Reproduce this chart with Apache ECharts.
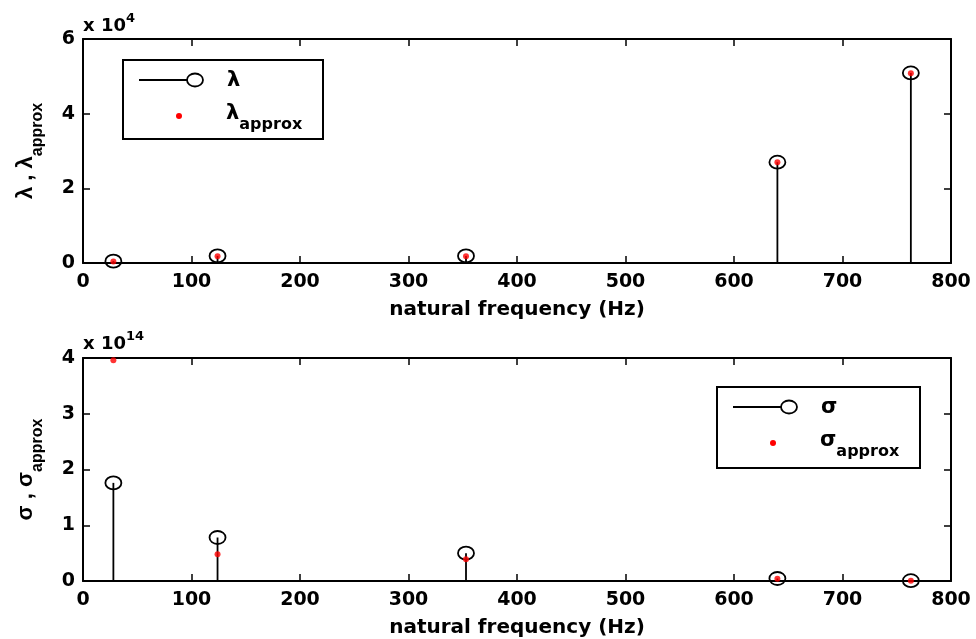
<!DOCTYPE html>
<html>
<head>
<meta charset="utf-8">
<script src="https://cdn.jsdelivr.net/npm/echarts@6/dist/echarts.min.js"></script>
<style>
html, body { margin: 0; padding: 0; background: #fff; }
#main { width: 976px; height: 639px; }
</style>
</head>
<body>
<div id="main"></div>
<script>
// natural frequencies (Hz)
var freqs = [28, 124, 353, 640, 763];
// lambda, in units of 10^4
var lambda = [0.05, 0.19, 0.19, 2.70, 5.09];
var lambdaApprox = [0.04, 0.18, 0.18, 2.70, 5.08];
// sigma, in units of 10^14
var sigma = [1.76, 0.78, 0.50, 0.045, 0.005];
var sigmaApprox = [3.96, 0.48, 0.39, 0.04, 0.005];

// the original figure is stretched sideways, so horizontal text uses the wider DejaVu
var WIDE = 'DejaVu Sans, sans-serif';
var NARROW = 'Liberation Sans, Arial, sans-serif';

function pairs(xs, ys) {
  return xs.map(function (x, i) { return [x, ys[i]]; });
}

// stem: line from baseline up to value, open circle on top
function stemItem(params, api) {
  var base = api.coord([api.value(0), 0]);
  var top = api.coord([api.value(0), api.value(1)]);
  return {
    type: 'group',
    children: [
      { type: 'line', shape: { x1: base[0], y1: base[1], x2: top[0], y2: top[1] },
        style: { stroke: '#000', lineWidth: 1.8 } },
      { type: 'ellipse', shape: { cx: top[0], cy: top[1], rx: 8, ry: 6.5 },
        style: { fill: 'none', stroke: '#000', lineWidth: 1.8 } }
    ]
  };
}

function xAxisPair(grid) {
  var common = {
    type: 'value', gridIndex: grid, min: 0, max: 800, interval: 100,
    axisLine: { onZero: false, lineStyle: { color: '#000', width: 2 } },
    axisTick: { inside: true, length: 7, lineStyle: { color: '#000', width: 1.5 } },
    splitLine: { show: false }
  };
  var bottom = Object.assign({}, common, {
    position: 'bottom',
    name: 'natural frequency (Hz)', nameLocation: 'middle', nameGap: 37,
    nameTextStyle: { fontFamily: WIDE, fontWeight: 'bold', fontSize: 20, color: '#000' },
    axisLabel: { fontFamily: WIDE, fontWeight: 'bold', fontSize: 19, color: '#000', margin: 10 }
  });
  var topAx = Object.assign({}, common, { position: 'top', axisLabel: { show: false } });
  return [bottom, topAx];
}

function yAxisPair(grid, max, interval, sym) {
  var common = {
    type: 'value', gridIndex: grid, min: 0, max: max, interval: interval,
    axisLine: { onZero: false, lineStyle: { color: '#000', width: 2 } },
    axisTick: { inside: true, length: 7, lineStyle: { color: '#000', width: 1.5 } },
    splitLine: { show: false }
  };
  var left = Object.assign({}, common, {
    position: 'left',
    name: '{a|' + sym + ' , ' + sym + '}{s|approx}', nameLocation: 'middle', nameGap: 37,
    nameTextStyle: {
      color: '#000',
      rich: {
        a: { fontFamily: NARROW, fontSize: 22, fontWeight: 'bold', color: '#000', verticalAlign: 'bottom', padding: [0, 0, 9, 0] },
        s: { fontFamily: NARROW, fontSize: 16, fontWeight: 'bold', color: '#000', verticalAlign: 'bottom' }
      }
    },
    axisLabel: { fontFamily: WIDE, fontWeight: 'bold', fontSize: 19, color: '#000', margin: 8 }
  });
  var right = Object.assign({}, common, { position: 'right', axisLabel: { show: false } });
  return [left, right];
}

var xs = xAxisPair(0).concat(xAxisPair(1));
var ys = yAxisPair(0, 6, 2, 'λ').concat(yAxisPair(1, 4, 1, 'σ'));

function expText(x, y, exp) {
  return {
    type: 'text', left: x, top: y,
    style: {
      text: '{b|x 10}{p|' + exp + '}',
      rich: {
        b: { fontFamily: WIDE, fontWeight: 'bold', fontSize: 18, fill: '#000', verticalAlign: 'bottom' },
        p: { fontFamily: WIDE, fontWeight: 'bold', fontSize: 13, fill: '#000', verticalAlign: 'bottom', padding: [0, 0, 10, 0] }
      }
    }
  };
}

function legendBox(x, y, w, h, sym) {
  return {
    type: 'group', left: x, top: y,
    children: [
      { type: 'rect', shape: { x: 0, y: 0, width: w, height: h },
        style: { fill: '#fff', stroke: '#000', lineWidth: 2 } },
      { type: 'line', shape: { x1: 16, y1: 20, x2: 64, y2: 20 },
        style: { stroke: '#000', lineWidth: 1.8 } },
      { type: 'ellipse', shape: { cx: 72, cy: 20, rx: 8, ry: 6.5 },
        style: { fill: 'none', stroke: '#000', lineWidth: 1.8 } },
      { type: 'text', x: 104, y: 21,
        style: { text: sym, fontFamily: WIDE, fontWeight: 'bold', fontSize: 21, fill: '#000', verticalAlign: 'middle' } },
      { type: 'circle', shape: { cx: 56, cy: 56, r: 3 }, style: { fill: '#ff0000' } },
      { type: 'text', x: 103, y: 58,
        style: {
          text: '{a|' + sym + '}{s|approx}', verticalAlign: 'middle',
          rich: {
            a: { fontFamily: WIDE, fontWeight: 'bold', fontSize: 21, fill: '#000', verticalAlign: 'bottom', padding: [0, 0, 9, 0] },
            s: { fontFamily: WIDE, fontSize: 16, fontWeight: 'bold', fill: '#000', verticalAlign: 'bottom' }
          }
        } }
    ]
  };
}

var chart = echarts.init(document.getElementById('main'));
chart.setOption({
  backgroundColor: '#fff',
  animation: false,
  grid: [
    { left: 83, top: 39, width: 868, height: 224 },
    { left: 83, top: 358, width: 868, height: 223 }
  ],
  xAxis: xs,
  yAxis: ys,
  graphic: [
    expText(83, 12, '4'),
    expText(83, 330, '14'),
    legendBox(122, 59, 200, 79, 'λ'),
    legendBox(716, 386, 203, 81, 'σ')
  ],
  series: [
    { name: 'λ', type: 'custom', xAxisIndex: 0, yAxisIndex: 0,
      renderItem: stemItem, data: pairs(freqs, lambda), z: 2 },
    { name: 'λapprox', type: 'scatter', xAxisIndex: 0, yAxisIndex: 0,
      symbol: 'circle', symbolSize: 6, itemStyle: { color: '#ff0000' },
      data: pairs(freqs, lambdaApprox), z: 3 },
    { name: 'σ', type: 'custom', xAxisIndex: 2, yAxisIndex: 2,
      renderItem: stemItem, data: pairs(freqs, sigma), z: 2 },
    { name: 'σapprox', type: 'scatter', xAxisIndex: 2, yAxisIndex: 2,
      symbol: 'circle', symbolSize: 6, itemStyle: { color: '#ff0000' },
      data: pairs(freqs, sigmaApprox), z: 3 }
  ]
});
</script>
</body>
</html>
